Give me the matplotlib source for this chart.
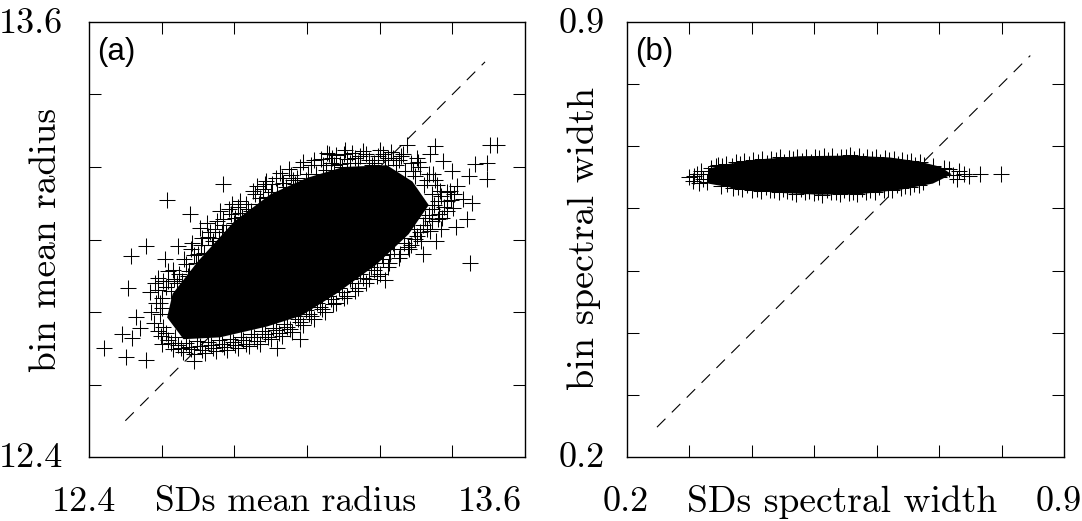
import matplotlib
matplotlib.use("Agg")
import matplotlib.pyplot as plt

# ---- panel (a) data ----
a_range = [12.4, 13.6]
a_ticks = [12.6, 12.8, 13.0, 13.2, 13.4]
a_line_x = [12.5, 13.49]
a_core = [(12.63, 12.85), (12.70, 12.94), (12.80, 13.05), (12.90, 13.125), (13.0, 13.17), (13.1, 13.20),
          (13.22, 13.205), (13.29, 13.16), (13.335, 13.095), (13.28, 13.015), (13.19, 12.93), (13.08, 12.85),
          (12.985, 12.79), (12.89, 12.76), (12.76, 12.73), (12.66, 12.725), (12.615, 12.785)]
a_outliers = [(12.769, 13.154), (12.614, 13.110), (12.678, 13.071), (12.557, 12.983), (12.515, 12.955),
              (12.507, 12.865), (12.441, 12.700), (12.502, 12.675), (12.557, 12.667), (12.491, 12.738),
              (12.529, 12.785), (12.518, 12.727), (12.540, 12.755), (12.917, 12.702), (12.980, 12.725),
              (12.689, 12.664), (13.503, 13.261), (13.522, 13.261), (13.495, 13.211), (13.462, 13.209),
              (13.445, 13.176), (13.495, 13.167), (13.448, 12.936), (13.409, 13.035), (13.440, 13.057),
              (13.453, 13.101), (13.429, 13.112), (13.401, 13.088), (13.352, 13.258), (13.319, 12.961),
              (13.354, 12.997), (13.214, 12.887)]
a_edge = [(12.793, 13.099), (12.760, 13.079), (12.815, 13.074), (12.725, 13.046), (12.705, 13.033), (12.769, 13.057),
          (12.683, 12.991), (12.645, 12.983), (12.609, 12.947), (12.617, 12.914), (12.590, 12.895), (12.581, 12.879),
          (12.568, 12.854), (12.595, 12.826), (12.884, 13.154), (12.925, 13.184), (12.972, 13.170), (12.862, 13.148),
          (13.055, 13.239), (13.104, 13.247), (13.068, 13.225), (13.090, 13.209), (13.145, 13.231), (13.195, 13.231),
          (13.236, 13.225), (13.275, 13.261), (13.302, 13.225), (13.338, 13.236), (13.374, 13.217), (13.398, 13.189),
          (13.346, 13.181), (13.393, 13.134), (13.412, 13.148), (13.385, 13.107), (13.360, 13.057), (13.338, 13.024),
          (13.297, 13.002), (13.277, 12.978), (13.228, 12.961), (13.192, 12.934)]
a_rim = [(12.602, 12.840), (12.611, 12.868), (12.625, 12.858), (12.634, 12.892), (12.648, 12.905), (12.655, 12.885),
         (12.668, 12.932), (12.676, 12.912), (12.688, 12.958), (12.695, 12.936), (12.708, 12.985), (12.716, 12.962),
         (12.728, 13.006), (12.738, 12.984), (12.748, 13.030), (12.757, 13.005), (12.770, 13.040), (12.778, 13.022),
         (12.790, 13.070), (12.798, 13.045), (12.810, 13.090), (12.822, 13.062), (12.832, 13.098), (12.845, 13.080),
         (12.856, 13.125), (12.868, 13.098), (12.880, 13.140), (12.892, 13.118), (12.905, 13.152), (12.918, 13.130),
         (12.930, 13.170), (12.942, 13.145), (12.955, 13.178), (12.968, 13.152), (12.982, 13.200), (12.996, 13.165),
         (13.010, 13.205), (13.024, 13.182), (13.038, 13.222), (13.052, 13.192), (13.066, 13.210), (13.080, 13.232),
         (13.095, 13.200), (13.110, 13.222), (13.125, 13.238), (13.140, 13.210), (13.155, 13.244), (13.170, 13.220),
         (13.185, 13.212), (13.200, 13.246), (13.215, 13.218), (13.230, 13.240), (13.245, 13.205), (13.258, 13.230),
         (13.270, 13.190), (13.285, 13.212), (13.298, 13.175), (13.312, 13.200), (13.322, 13.150), (13.336, 13.180),
         (13.345, 13.125), (13.358, 13.150), (13.370, 13.120), (13.378, 13.090), (13.350, 13.095), (13.362, 13.070),
         (13.345, 13.050), (13.325, 13.060), (13.330, 13.030), (13.310, 13.020), (13.315, 12.995), (13.295, 13.030),
         (13.285, 12.985), (13.268, 12.990), (13.255, 12.960), (13.240, 12.975), (13.225, 12.935), (13.210, 12.945),
         (13.200, 12.905), (13.185, 12.915), (13.170, 12.890), (13.155, 12.895), (13.140, 12.865), (13.125, 12.880),
         (13.110, 12.845), (13.095, 12.855), (13.080, 12.825), (13.065, 12.835), (13.050, 12.800), (13.035, 12.815),
         (13.020, 12.780), (13.005, 12.795), (12.990, 12.765), (12.975, 12.780), (12.960, 12.745), (12.945, 12.760),
         (12.930, 12.735), (12.915, 12.750), (12.900, 12.725), (12.885, 12.740), (12.870, 12.712), (12.855, 12.730),
         (12.840, 12.705), (12.825, 12.722), (12.810, 12.700), (12.795, 12.718), (12.780, 12.695), (12.765, 12.712),
         (12.750, 12.692), (12.735, 12.708), (12.720, 12.688), (12.705, 12.706), (12.690, 12.685), (12.675, 12.704),
         (12.660, 12.690), (12.645, 12.708), (12.630, 12.698), (12.618, 12.722), (12.602, 12.712), (12.590, 12.748),
         (12.605, 12.760), (12.580, 12.770), (12.595, 12.795), (12.572, 12.800), (12.585, 12.825), (12.600, 12.810)]
a_lower = [(12.598, 12.735), (12.612, 12.742), (12.625, 12.715), (12.638, 12.730), (12.652, 12.700), (12.668, 12.715),
           (12.682, 12.698), (12.697, 12.720), (12.712, 12.695), (12.727, 12.718), (12.742, 12.700), (12.757, 12.722),
           (12.772, 12.703), (12.787, 12.725), (12.802, 12.708), (12.817, 12.732), (12.832, 12.712), (12.847, 12.738),
           (12.862, 12.720), (12.877, 12.748), (12.892, 12.730), (12.907, 12.755), (12.922, 12.742), (12.937, 12.768),
           (12.952, 12.752), (12.967, 12.790), (12.982, 12.772), (12.997, 12.805), (13.012, 12.790), (13.027, 12.825),
           (13.042, 12.808), (13.057, 12.845), (13.072, 12.822), (13.087, 12.865), (13.102, 12.838), (13.117, 12.890),
           (13.132, 12.858), (13.147, 12.905), (13.162, 12.880), (13.177, 12.925), (13.192, 12.900), (13.207, 12.958),
           (13.222, 12.925), (13.237, 12.990), (13.252, 12.948), (13.267, 13.005), (13.282, 12.975), (13.302, 13.010),
           (13.318, 13.040), (13.335, 13.068)]
a_upper = [(12.590, 12.860), (12.604, 12.885), (12.618, 12.885), (12.632, 12.915), (12.642, 12.880), (12.662, 12.945),
           (12.672, 12.900), (12.682, 12.975), (12.700, 12.960), (12.712, 13.005), (12.732, 13.020), (12.742, 12.995),
           (12.752, 13.050), (12.765, 13.020), (12.785, 13.085), (12.803, 13.060), (12.815, 13.105), (12.838, 13.085),
           (12.850, 13.135), (12.872, 13.115), (12.888, 13.160), (12.900, 13.130), (12.915, 13.170), (12.935, 13.155),
           (12.950, 13.195), (12.962, 13.165), (12.990, 13.215), (13.003, 13.180), (13.018, 13.220), (13.045, 13.205),
           (13.060, 13.235), (13.074, 13.205), (13.102, 13.235), (13.118, 13.210), (13.133, 13.225), (13.163, 13.235),
           (13.178, 13.205), (13.208, 13.235), (13.222, 13.225), (13.252, 13.218), (13.265, 13.235), (13.292, 13.190),
           (13.305, 13.215), (13.330, 13.165), (13.352, 13.165), (13.365, 13.135), (13.385, 13.130), (13.345, 13.085),
           (13.360, 13.105), (13.372, 13.060), (13.395, 13.110), (13.405, 13.125), (13.385, 13.080), (13.370, 13.030)]

# ---- panel (b) data ----
b_range = [0.2, 0.9]
b_ticks = [0.3, 0.4, 0.5, 0.6, 0.7, 0.8]
b_line_x = [0.248, 0.846]
b_core = [(0.330, 0.664), (0.365, 0.672), (0.413, 0.679), (0.477, 0.684), (0.557, 0.685), (0.621, 0.682),
          (0.670, 0.675), (0.702, 0.667), (0.720, 0.655), (0.690, 0.640), (0.6375, 0.630), (0.573, 0.623),
          (0.509, 0.622), (0.445, 0.625), (0.381, 0.631), (0.330, 0.640)]
b_outliers = [(0.799, 0.656), (0.766, 0.656), (0.732, 0.660), (0.740, 0.656), (0.722, 0.654), (0.748, 0.652),
              (0.728, 0.648), (0.715, 0.663), (0.708, 0.665), (0.700, 0.650), (0.690, 0.668), (0.676, 0.670)]
b_left = [(0.300, 0.650), (0.305, 0.644), (0.312, 0.656), (0.318, 0.660), (0.322, 0.648), (0.328, 0.642),
          (0.334, 0.665), (0.342, 0.668), (0.308, 0.652), (0.316, 0.641), (0.330, 0.655), (0.345, 0.670)]
b_upper = [(0.352, 0.668), (0.359, 0.671), (0.368, 0.669), (0.374, 0.674), (0.381, 0.672), (0.388, 0.676), (0.395, 0.671),
           (0.402, 0.678), (0.410, 0.675), (0.417, 0.679), (0.424, 0.673), (0.431, 0.680), (0.438, 0.678), (0.445, 0.682),
           (0.452, 0.674), (0.459, 0.681), (0.466, 0.680), (0.473, 0.683), (0.480, 0.677), (0.487, 0.682), (0.494, 0.675),
           (0.501, 0.683), (0.508, 0.681), (0.515, 0.685), (0.522, 0.678), (0.529, 0.684), (0.536, 0.676), (0.543, 0.683),
           (0.550, 0.682), (0.557, 0.686), (0.564, 0.679), (0.571, 0.684), (0.578, 0.677), (0.585, 0.683), (0.592, 0.680),
           (0.599, 0.682), (0.606, 0.675), (0.613, 0.681), (0.620, 0.678), (0.627, 0.680), (0.634, 0.672), (0.641, 0.678),
           (0.648, 0.674), (0.655, 0.677), (0.662, 0.670), (0.669, 0.674)]
b_lower = [(0.350, 0.636), (0.360, 0.640), (0.369, 0.633), (0.378, 0.635), (0.385, 0.631), (0.392, 0.637), (0.400, 0.630),
           (0.408, 0.632), (0.415, 0.628), (0.422, 0.634), (0.429, 0.629), (0.436, 0.630), (0.443, 0.626), (0.450, 0.632),
           (0.457, 0.628), (0.464, 0.627), (0.471, 0.624), (0.478, 0.631), (0.485, 0.627), (0.492, 0.628), (0.499, 0.625),
           (0.506, 0.626), (0.513, 0.622), (0.520, 0.630), (0.527, 0.626), (0.534, 0.627), (0.541, 0.624), (0.548, 0.629),
           (0.555, 0.625), (0.562, 0.626), (0.569, 0.623), (0.576, 0.632), (0.583, 0.627), (0.590, 0.630), (0.597, 0.627),
           (0.604, 0.634), (0.611, 0.630), (0.618, 0.632), (0.625, 0.630), (0.632, 0.637), (0.639, 0.633), (0.646, 0.636),
           (0.653, 0.634), (0.660, 0.640), (0.667, 0.637), (0.674, 0.642)]

panel_labels = ["(a)", "(b)"]
x_titles = ["SDs mean radius", "SDs spectral width"]
y_titles = ["bin mean radius", "bin spectral width"]

plt.rcParams["lines.scale_dashes"] = False
W, H = 1082, 521
fig = plt.figure(figsize=(W / 100, H / 100), dpi=100, facecolor="white")


def box(l, t, r, b):
    return [l / W, 1 - b / H, (r - l) / W, (b - t) / H]


def panel(rect, rng, ticks, line_x, core, groups, tag):
    ax = fig.add_axes(box(*rect))
    ax.set_xlim(rng)
    ax.set_ylim(rng)
    ax.plot(line_x, line_x, color="black", lw=0.8, dashes=(8.6, 6.5), zorder=1)
    ax.fill([p[0] for p in core], [p[1] for p in core], color="black", lw=0, zorder=2)
    for g in groups:
        ax.plot([p[0] for p in g], [p[1] for p in g], ls="none", marker="+", ms=11, mew=0.75,
                color="black", zorder=3)
    ax.set_xticks(ticks)
    ax.set_yticks(ticks)
    ax.tick_params(direction="in", length=8.5, width=0.75, top=True, right=True,
                   labelbottom=False, labelleft=False)
    for s in ax.spines.values():
        s.set_linewidth(1.0)
    ax.text(8 / (rect[2] - rect[0]), 1 - 30 / (rect[3] - rect[1]), tag, transform=ax.transAxes,
            family="Liberation Sans", fontsize=22.5, va="center", ha="left")
    return ax


panel((89, 22, 525, 457), a_range, a_ticks, a_line_x, a_core,
      [a_outliers, a_edge, a_rim, a_lower, a_upper], panel_labels[0])
panel((627, 22, 1064, 457), b_range, b_ticks, b_line_x, b_core,
      [b_outliers, b_left, b_upper, b_lower], panel_labels[1])


def label(x, y, s, rot=0, size=26):
    fig.text(x / W, 1 - y / H, s, family="cmr10", fontsize=size, ha="center", va="center", rotation=rot)


label(31, 24, f"{a_range[1]:.1f}")
label(31, 458, f"{a_range[0]:.1f}")
label(84, 502, f"{a_range[0]:.1f}")
label(490, 502, f"{a_range[1]:.1f}")
label(286, 502, x_titles[0], size=25.5)
label(46, 240, y_titles[0], rot=90, size=27)

label(582, 24, f"{b_range[1]:.1f}")
label(582, 458, f"{b_range[0]:.1f}")
label(626, 502, f"{b_range[0]:.1f}")
label(1059, 502, f"{b_range[1]:.1f}")
label(842, 502, x_titles[1], size=27)
label(584, 238, y_titles[1], rot=90, size=27.5)

fig.savefig("out.png", dpi=100)
